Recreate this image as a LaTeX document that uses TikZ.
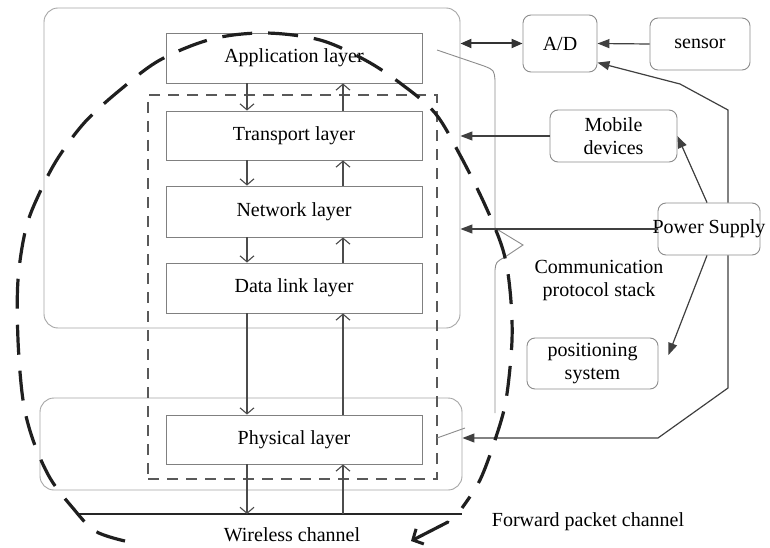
\documentclass[tikz,border=0pt]{standalone}
\usepackage{fontspec}
\setmainfont{Liberation Serif}
\usetikzlibrary{arrows.meta,calc}

\begin{document}
\begin{tikzpicture}[x=1pt,y=-1pt,
  txt/.style={font=\fontsize{20}{23}\selectfont, inner sep=0pt},
  frame/.style={draw=black!35, line width=0.9pt, rounded corners=14pt, inner sep=0pt},
  layer/.style={draw=black!50, line width=0.9pt, minimum width=256pt, inner sep=0pt,
                font=\fontsize{20}{23}\selectfont},
  unit/.style={draw=black!45, line width=0.9pt, rounded corners=8pt, inner sep=0pt,
               align=center, font=\fontsize{20}{23}\selectfont},
  flow/.style={draw=black!70, line width=1.1pt,
               -{Straight Barb[length=6pt,width=14pt,line width=1.1pt]}},
  feed/.style={draw=black!75, line width=1.2pt, -{Triangle[length=12pt,width=9pt]}},
  trace/.style={draw=black!88, line width=3.2pt, line cap=round},
]
\fill[white] (0,0) rectangle (770,548);
\path[use as bounding box] (0,0) rectangle (770,548);

% node enclosures
\node[frame, minimum width=416pt, minimum height=320pt] (sys) at (252,168) {};
\node[frame, minimum width=422pt, minimum height=92pt] (phybox) at (251,444) {};
\node[draw=black!65, line width=1.4pt, dash pattern=on 11pt off 8pt,
      minimum width=289pt, minimum height=384pt, inner sep=0pt] (stack) at (292.5,287) {};

% protocol layers
\node[layer, minimum height=50pt] (app) at (294,58)    {Application layer};
\node[layer, minimum height=49pt] (tr)  at (294,135.5) {Transport layer};
\node[layer, minimum height=51pt] (nw)  at (294,211.5) {Network layer};
\node[layer, minimum height=50pt] (dl)  at (294,288)   {Data link layer};
\node[layer, minimum height=49pt] (ph)  at (294,439.5) {Physical layer};

% wireless channel
\coordinate (wl) at (77,514);
\coordinate (wr) at (462,514);
\draw[black!85, line width=2.8pt] (wl) -- (wr);

% downward and upward data flow
\coordinate (dnx) at (247,0);
\coordinate (upx) at (343,0);
\draw[flow] (app.south -| dnx) -- (tr.north -| dnx);
\draw[flow] (tr.south -| dnx)  -- (nw.north -| dnx);
\draw[flow] (nw.south -| dnx)  -- (dl.north -| dnx);
\draw[flow] (dl.south -| dnx)  -- (ph.north -| dnx);
\draw[flow] (ph.south -| dnx)  -- (dnx |- wl);
\draw[flow] (tr.north -| upx)  -- (app.south -| upx);
\draw[flow] (nw.north -| upx)  -- (tr.south -| upx);
\draw[flow] (dl.north -| upx)  -- (nw.south -| upx);
\draw[flow] (ph.north -| upx)  -- (dl.south -| upx);
\draw[flow] (upx |- wl)        -- (ph.south -| upx);

% peripheral units
\node[unit, minimum width=74pt,  minimum height=57pt] (ad)     at (560,43.5)  {A/D};
\node[unit, minimum width=100pt, minimum height=52pt] (sensor) at (700,44)    {sensor};
\node[unit, minimum width=127pt, minimum height=52pt] (mob)    at (613.5,136) {Mobile\\devices};
\node[unit, minimum width=102pt, minimum height=52pt] (pw)     at (709,229)   {\makebox[80pt]{Power Supply}};
\node[unit, minimum width=131pt, minimum height=51pt] (pos)    at (592.5,363.5) {positioning\\system};

% labels
\node[txt] (wlab) at (292,535) {Wireless channel};
\node[txt] (fpc)  at (588,522) {Forward packet channel};
\node[txt, align=center] (cps) at (599,281) {Communication\\protocol stack};

% callout frame of the protocol stack
\draw[black!45, line width=0.9pt]
  (437,50) -- (484,66) .. controls (494,70) .. (495,80) -- (495,228)
  -- (523,245) -- (505,257) .. controls (496,262) .. (495,270) -- (495,413);
\draw[black!45, line width=0.9pt] (437,438) -- (465,428);

% connections of the peripheral units
\draw[line width=2pt, black!80, {Triangle[length=11pt,width=9pt]}-{Triangle[length=11pt,width=9pt]}]
  (sys.east |- ad) -- (ad.west);
\draw[feed] (sensor.west) -- (ad.east);
\draw[feed] (mob.west) -- (sys.east |- mob.west);
\draw[feed] (pw.west) -- (sys.east |- pw.west);
\draw[feed] ($(pw.north)+(-2,0)$) -- (mob.east);
\coordinate (bendA) at (728,110);
\coordinate (bendB) at (680,84);
\draw[feed] (pw.north -| bendA) -- (bendA) -- (bendB) -- (ad.-27);
\coordinate (bendC) at (728,388);
\coordinate (bendD) at (658,438);
\draw[feed] (pw.south -| bendC) -- (bendC) -- (bendD) -- (phybox.east |- bendD);
\draw[feed] ($(pw.south)+(-2,0)$) -- ($(pos.east)+(10,-8.5)$);

% packet forwarding trace
\draw[trace, line cap=butt, dash pattern=on 30pt off 16pt] plot[smooth, tension=0.55] coordinates {
  (125,541) (95,531) (72,507) (50,478) (33,440) (23,400) (18,340) (18,280)
  (26,228) (40,192) (58,158) (85,122) (120,90) (160,60) (212,39) (265,33)
  (320,40) (365,60) (400,83) (435,113) (460,155) (485,205) (503,250)
  (510,290) (512,340) (506,400) (495,440) (480,480) (462,508)};
\coordinate (tailA) at (448,522);
\coordinate (tailB) at (411,541);
\draw[trace, -{Straight Barb[length=8pt,width=17pt,line width=3pt]}] (tailA) -- (tailB);
\end{tikzpicture}
\end{document}
